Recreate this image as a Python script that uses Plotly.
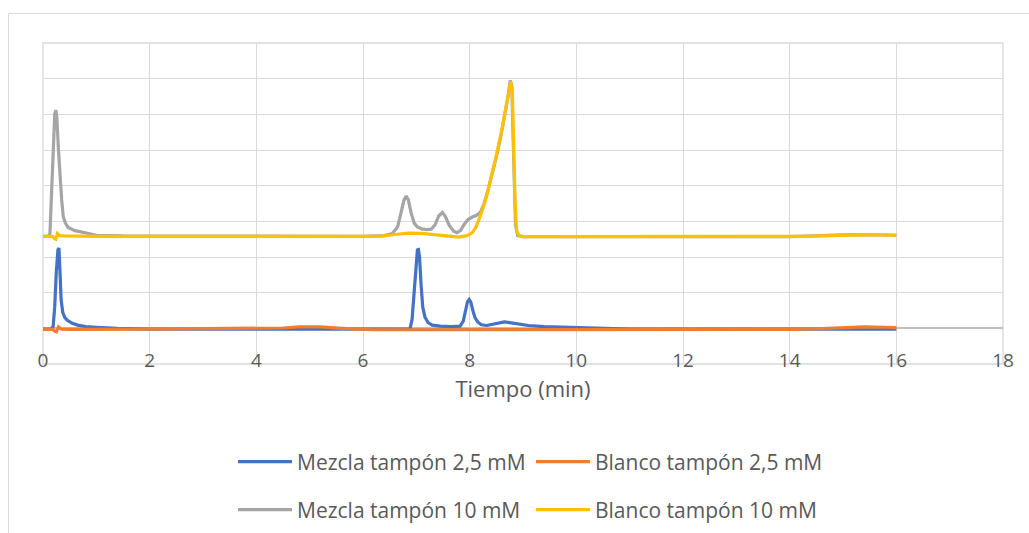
import plotly.graph_objects as go

# ---------------- data ----------------
t_blue = [0, 0.15, 0.19, 0.22, 0.25, 0.28, 0.30, 0.32, 0.34, 0.37, 0.41, 0.46, 0.55, 0.65, 0.8, 1.0, 1.4, 2.0,
          6.0, 6.88, 6.92, 6.96, 6.99, 7.02, 7.04, 7.06, 7.09, 7.12, 7.16, 7.22, 7.30, 7.45, 7.65, 7.82, 7.88,
          7.92, 7.96, 7.99, 8.02, 8.06, 8.10, 8.15, 8.22, 8.32, 8.45, 8.55, 8.65, 8.75, 8.9, 9.1, 9.4, 9.8,
          10.3, 11.0, 16.0]
v_blue = [-0.02, -0.02, 0.05, 0.6, 1.6, 2.2, 2.25, 1.6, 0.8, 0.45, 0.3, 0.22, 0.14, 0.09, 0.05, 0.03, 0.0, -0.02,
          -0.02, -0.02, 0.25, 1.1, 1.8, 2.2, 2.21, 2.0, 1.2, 0.6, 0.32, 0.16, 0.09, 0.06, 0.05, 0.06, 0.2,
          0.5, 0.75, 0.81, 0.74, 0.5, 0.3, 0.18, 0.1, 0.08, 0.12, 0.17, 0.18, 0.16, 0.12, 0.08, 0.05, 0.03,
          0.0, -0.02, -0.02]

t_orange = [0, 0.18, 0.22, 0.25, 0.29, 0.34, 0.5, 1, 2, 3, 4, 4.5, 4.8, 5.0, 5.2, 5.6, 6.2, 7, 8, 9, 10, 11,
            12, 13, 14, 14.6, 15.0, 15.4, 15.8, 16]
v_orange = [-0.03, -0.03, -0.08, -0.1, 0.04, -0.02, -0.03, -0.02, -0.02, -0.01, -0.01, 0.01, 0.04, 0.05, 0.04,
            0.0, -0.04, -0.04, -0.04, -0.04, -0.04, -0.05, -0.05, -0.04, -0.03, -0.01, 0.02, 0.04, 0.03, 0.02]

t_gray = [0, 0.10, 0.13, 0.16, 0.19, 0.22, 0.24, 0.26, 0.29, 0.32, 0.35, 0.38, 0.42, 0.47, 0.53, 0.6, 0.69,
          0.78, 0.86, 1.0, 1.5, 3.0, 6.0, 6.4, 6.55, 6.65, 6.72, 6.77, 6.81, 6.85, 6.90, 6.96, 7.02, 7.1, 7.2,
          7.28, 7.35, 7.42, 7.49, 7.55, 7.62, 7.7, 7.76, 7.83, 7.9, 7.97, 8.05, 8.13, 8.2, 8.27, 8.34, 8.42,
          8.5, 8.58, 8.66, 8.72, 8.76, 8.79, 8.81, 8.83, 8.86, 8.9, 9.0, 10, 12, 14, 15, 15.4, 16]
v_gray = [2.58, 2.58, 2.65, 3.8, 5.3, 6.0, 6.12, 5.9, 5.0, 4.16, 3.6, 3.13, 2.95, 2.83, 2.78, 2.74, 2.71,
          2.68, 2.64, 2.61, 2.59, 2.58, 2.58, 2.6, 2.66, 2.85, 3.3, 3.6, 3.71, 3.6, 3.25, 2.95, 2.84, 2.79, 2.77,
          2.78, 2.9, 3.15, 3.25, 3.12, 2.88, 2.72, 2.68, 2.75, 2.92, 3.05, 3.12, 3.17, 3.25, 3.5, 3.85, 4.3,
          4.8, 5.35, 5.95, 6.5, 6.95, 6.8, 5.6, 4.2, 2.9, 2.6, 2.57, 2.57, 2.57, 2.57, 2.62, 2.63, 2.61]

t_yellow = [0, 0.18, 0.21, 0.24, 0.27, 0.31, 0.4, 1.0, 3.0, 5.0, 6.0, 6.3, 6.6, 6.85, 7.1, 7.35, 7.6, 7.8,
            7.95, 8.05, 8.12, 8.2, 8.3, 8.4, 8.5, 8.6, 8.68, 8.74, 8.77, 8.8, 8.82, 8.85, 8.88, 8.93, 9.0, 10,
            12, 13.5, 14.3, 14.8, 15.2, 15.5, 15.8, 16]
v_yellow = [2.58, 2.58, 2.52, 2.5, 2.66, 2.6, 2.59, 2.58, 2.58, 2.58, 2.57, 2.58, 2.63, 2.67, 2.66, 2.63, 2.58,
            2.56, 2.6, 2.68, 2.85, 3.15, 3.6, 4.2, 4.85, 5.55, 6.15, 6.65, 6.92, 6.6, 5.2, 3.6, 2.72, 2.6, 2.57,
            2.57, 2.56, 2.57, 2.58, 2.60, 2.62, 2.63, 2.62, 2.61]

series_names = ["Mezcla tampón 2,5 mM", "Blanco tampón 2,5 mM", "Mezcla tampón 10 mM", "Blanco tampón 10 mM"]
x_ticks = [0, 2, 4, 6, 8, 10, 12, 14, 16, 18]
x_title = "Tiempo (min)"

# ---------------- styling ----------------
FONT = "Open Sans"
TXT = "#595959"
GRID = "#d9d9d9"
colors = ["#4472C4", "#ED7D31", "#A5A5A5", "#FFC000"]
series = [(t_blue, v_blue), (t_orange, v_orange), (t_gray, v_gray), (t_yellow, v_yellow)]
legend_ids = ["legend", "legend2", "legend3", "legend4"]

W, H = 1029, 533
L, R, T, B = 43, 26, 43, 169
pw, ph = W - L - R, H - T - B

fig = go.Figure()
for (tx, vy), name, col, lid in zip(series, series_names, colors, legend_ids):
    fig.add_trace(go.Scatter(x=tx, y=vy, mode="lines", name=name, legend=lid,
                             line=dict(color=col, width=3.2), hoverinfo="skip"))

def px_x(p):
    return (p - L) / pw

def px_y(p):
    return (T + ph - p) / ph

leg_common = dict(orientation="h", xanchor="left", yanchor="middle", bgcolor="rgba(0,0,0,0)",
                  font=dict(family=FONT, size=21, color=TXT), itemwidth=54, borderwidth=0)
legend_pos = [(233, 462), (531, 462), (233, 510), (531, 510)]
leg_layout = {}
for lid, (lx, ly) in zip(legend_ids, legend_pos):
    leg_layout[lid] = dict(leg_common, x=px_x(lx), y=px_y(ly))

fig.update_layout(
    width=W, height=H,
    margin=dict(l=L, r=R, t=T, b=B, autoexpand=False),
    paper_bgcolor="white", plot_bgcolor="white",
    showlegend=True,
    xaxis=dict(range=[0, 18], tickvals=x_ticks, ticktext=[str(v) for v in x_ticks],
               showgrid=True, gridcolor=GRID, gridwidth=1.3, zeroline=False, showline=False,
               ticks="", anchor="free", position=1/9, ticklabelstandoff=19,
               tickfont=dict(family=FONT, size=19, color=TXT),
               title=dict(text=x_title, font=dict(family=FONT, size=22, color=TXT), standoff=9),
               automargin=False, fixedrange=True),
    yaxis=dict(range=[-1, 8], tick0=0, dtick=1, showticklabels=False, ticks="",
               showgrid=True, gridcolor=GRID, gridwidth=1.3,
               zeroline=True, zerolinecolor="#bfbfbf", zerolinewidth=1.5, showline=False,
               automargin=False, fixedrange=True),
    shapes=[
        dict(type="rect", xref="paper", yref="paper", x0=0, x1=1, y0=0, y1=1,
             line=dict(color=GRID, width=1.3), layer="below"),
        dict(type="rect", xref="paper", yref="paper", x0=px_x(8.5), x1=px_x(1040), y0=px_y(545), y1=px_y(13.5),
             line=dict(color=GRID, width=1), layer="below"),
    ],
    **leg_layout,
)

fig.write_html("out.html")
